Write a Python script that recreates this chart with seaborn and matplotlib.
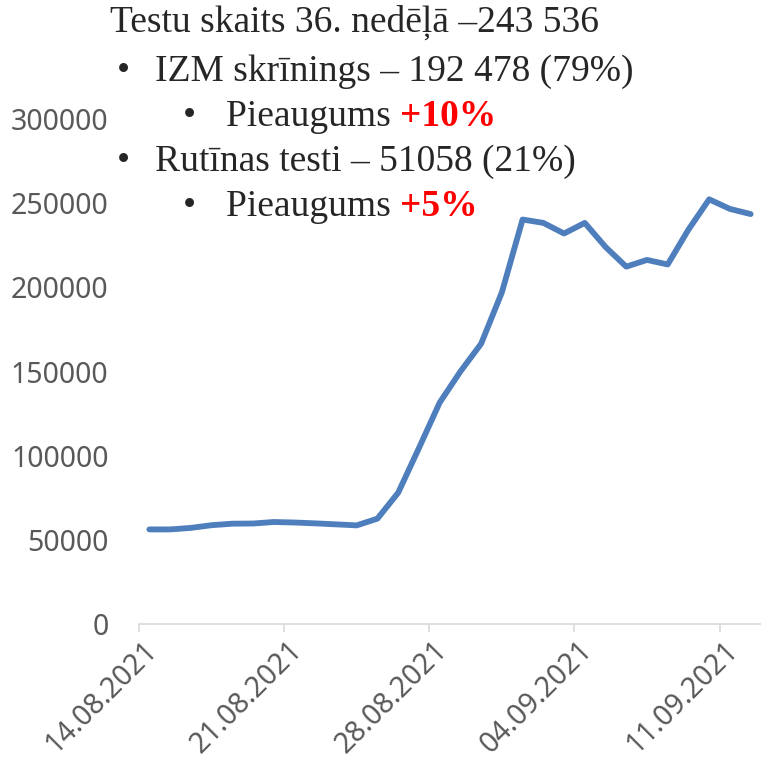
import numpy as np
import pandas as pd
import matplotlib
matplotlib.use("Agg")
import matplotlib.pyplot as plt
import matplotlib.transforms as mtransforms
import seaborn as sns

# ─── Data ────────────────────────────────────────────────────────────────────
dates = pd.date_range("2021-08-14", "2021-09-12", freq="D").strftime("%d.%m.%Y").tolist()
tests = [
    56200, 56200, 57100, 58700, 59600, 59700, 60600, 60300, 59800, 59200,
    58600, 62600, 78000, 104500, 131500, 150000, 166500, 197000, 240300, 238300,
    232000, 238300, 224000, 212300, 216300, 213600, 234300, 252300, 246600, 243536,
]
label_dates = ["14.08.2021", "21.08.2021", "28.08.2021", "04.09.2021", "11.09.2021"]
y_ticks = [0, 50000, 100000, 150000, 200000, 250000, 300000]

df = pd.DataFrame({"date": dates, "pos": np.arange(len(dates)), "tests": tests})

# ─── Figure ──────────────────────────────────────────────────────────────────
sns.set_theme(style="white")
plt.rcParams["font.family"] = ["Noto Sans", "DejaVu Sans"]

fig = plt.figure(figsize=(7.61, 7.65), dpi=100)
ax = fig.add_axes([0.1827, 0.1843, 0.8173, 0.6601])

sns.lineplot(data=df, x="pos", y="tests", ax=ax, color="#4E7FBC", linewidth=4.2)

ax.set_xlim(-0.5, 29.5)
ax.set_ylim(0, 300000)
ax.set_xlabel("")
ax.set_ylabel("")

grey = "#595959"
ax.set_yticks(y_ticks)
ax.set_yticklabels([str(v) for v in y_ticks])
ax.tick_params(axis="y", length=0, pad=22, labelsize=20.5, labelcolor=grey)

tick_pos = [dates.index(d) - 0.5 for d in label_dates]
ax.set_xticks(tick_pos)
ax.set_xticklabels(label_dates, rotation=45, ha="right", va="center",
                   rotation_mode="anchor")
ax.tick_params(axis="x", length=6, width=1.2, color="#D9D9D9", direction="out",
               pad=10, labelsize=20.5, labelcolor=grey, bottom=True)
shift = mtransforms.ScaledTranslation(14 / 100, 0, fig.dpi_scale_trans)
for lab in ax.get_xticklabels():
    lab.set_transform(lab.get_transform() + shift)

for side in ["left", "right", "top"]:
    ax.spines[side].set_visible(False)
ax.spines["bottom"].set_color("#D9D9D9")
ax.spines["bottom"].set_linewidth(1.2)
ax.grid(False)

# ─── Overlay text (slide annotation) ─────────────────────────────────────────
serif = ["Liberation Serif", "DejaVu Serif"]
fs = 27
fig.text(110 / 761, 1 - 22 / 765, "Testu skaits 36. nedēļā –243 536",
         family=serif, fontsize=fs, va="center", ha="left")

lines = [
    (117, 155, 72, "IZM skrīnings – 192 478 (79%)", None),
    (183, 226, 117, "Pieaugums ", "+10%"),
    (117, 155, 162, "Rutīnas testi – 51058 (21%)", None),
    (183, 226, 207, "Pieaugums ", "+5%"),
]
for bx, tx, ty, txt, red in lines:
    yf = 1 - ty / 765
    fig.text(bx / 761, yf, "•", family=serif, fontsize=fs, va="center", ha="left")
    t = fig.text(tx / 761, yf, txt, family=serif, fontsize=fs, va="center", ha="left")
    if red:
        ax.annotate(red, xy=(1, 0), xycoords=t, va="bottom", ha="left",
                    family=serif, fontsize=fs, fontweight="bold", color="#FF0000",
                    annotation_clip=False)

fig.savefig("out.png", dpi=100)
